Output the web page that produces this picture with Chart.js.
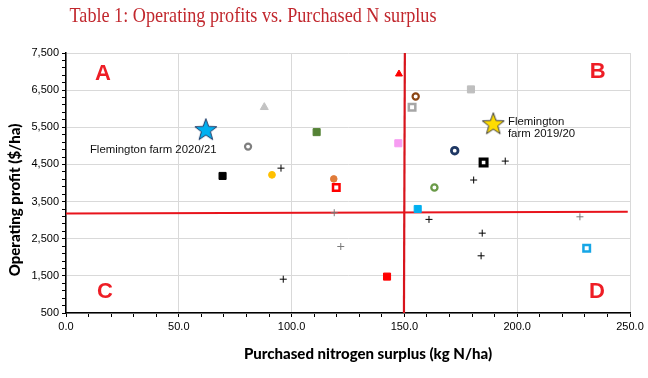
<!DOCTYPE html>
<html><head><meta charset="utf-8">
<script src="https://cdn.jsdelivr.net/npm/chart.js@4/dist/chart.umd.min.js"></script>
<style>html,body{margin:0;padding:0;background:#fff}#wrap{width:648px;height:378px}</style>
</head><body><div id="wrap"><canvas id="c" width="648" height="378"></canvas></div>
<script>
// ---------- texts ----------
const chartTitle = 'Table 1: Operating profits vs. Purchased N surplus';
const xAxisTitle = 'Purchased nitrogen surplus (kg N/ha)';
const yAxisTitle = 'Operating profit ($/ha)';

// ---------- data ----------
const farmNames = ['Flemington farm 2020/21','Flemington farm 2019/20','Farm 3','Farm 4','Farm 5','Farm 6','Farm 7','Farm 8','Farm 9','Farm 10','Farm 11','Farm 12','Farm 13','Farm 14','Farm 15','Farm 16','Farm 17','Farm 18','Farm 19','Farm 20','Farm 21','Farm 22','Farm 23','Farm 24','Farm 25','Farm 26','Farm 27','Farm 28','Farm 29','Farm 30'];
const nSurplus = [62.0, 189.4, 80.7, 87.9, 111.1, 69.4, 91.3, 95.3, 147.6, 155.0, 153.4, 179.5, 147.3, 172.3, 185.1, 194.7, 118.7, 119.8, 163.3, 180.7, 155.9, 118.9, 160.9, 227.8, 184.5, 121.8, 184.0, 230.8, 142.3, 96.3];
const opProfit = [5450, 5608, 4980, 6040, 5370, 4190, 4220, 4400, 6935, 6330, 6040, 6520, 5070, 4870, 4550, 4590, 4110, 3880, 3880, 4080, 3300, 3200, 3020, 3090, 2650, 2290, 2040, 2240, 1480, 1410];
const markerKind = ['starBlue','starYellow','ringGray','triGray','sqGreen','sqBlack','dotYellow','plusBlack','triRed','ringBrown','boxGray','sqLightGray','sqPink','ringNavy','boxBlack','plusBlack','dotOrange','boxRed','ringGreen','plusBlack','sqBlue','plusGray','plusBlack','plusGray','plusBlack','plusGray','plusBlack','boxBlue','sqRed','plusBlack'];

// reference lines
const hLineX = [0, 249];
const hLineY = [3180, 3225];
const vLineX = [149.8, 150.2];
const vLineY = [500, 7500];

// quadrant letters
const quadLetters = ['A','B','C','D'];
const quadX = [16.4, 235.7, 17.3, 235.4];
const quadY = [6935, 6998, 1074, 1074];

// callout labels
const calloutLines = [['Flemington farm 2020/21'], ['Flemington','farm 2019/20']];
const calloutX = [10.6, 195.9];
const calloutY = [4889, 5651];

// axis ranges / ticks
const xMin = 0, xMax = 250, xMajor = 50, xMinor = 10;
const yMin = 500, yMax = 7500, yMajor = 1000, yMinor = 200;

// ---------- styles ----------
function starImg(fill, stroke){
  const c = document.createElement('canvas');
  c.width = 26; c.height = 26;
  const g = c.getContext('2d');
  const R = 11.6, r = R*0.41;
  const cx = 13, cy = 13 + 0.0955*R;
  g.beginPath();
  for (let i=0;i<10;i++){
    const rad = (i%2===0)?R:r;
    const a = -Math.PI/2 + i*Math.PI/5;
    const px = cx + rad*Math.cos(a), py = cy + rad*Math.sin(a);
    if(i===0) g.moveTo(px,py); else g.lineTo(px,py);
  }
  g.closePath();
  g.fillStyle = fill; g.fill();
  g.lineWidth = 1; g.strokeStyle = stroke; g.stroke();
  return c;
}
const S = {
  starBlue:   {pointStyle: starImg('#00b0f0','#1f3864'), pointRadius: 11},
  starYellow: {pointStyle: starImg('#ffdc00','#3a3a3a'), pointRadius: 11},
  ringGray:   {pointStyle:'circle', pointRadius:3.05, pointBackgroundColor:'#fff', pointBorderColor:'#7f7f7f', pointBorderWidth:2.2},
  triGray:    {pointStyle:'triangle', pointRadius:4.6, pointBackgroundColor:'#c3c3c3', pointBorderColor:'#c3c3c3', pointBorderWidth:1},
  sqGreen:    {pointStyle:'rect', pointRadius:5, pointBackgroundColor:'#548235', pointBorderColor:'#548235', pointBorderWidth:1},
  sqBlack:    {pointStyle:'rect', pointRadius:5, pointBackgroundColor:'#000', pointBorderColor:'#000', pointBorderWidth:1},
  dotYellow:  {pointStyle:'circle', pointRadius:3.4, pointBackgroundColor:'#ffc000', pointBorderColor:'#ffc000', pointBorderWidth:1},
  plusBlack:  {pointStyle:'cross', pointRadius:3.5, pointBorderColor:'#000', pointBorderWidth:1},
  plusGray:   {pointStyle:'cross', pointRadius:3.5, pointBorderColor:'#7a7a7a', pointBorderWidth:1},
  triRed:     {pointStyle:'triangle', pointRadius:4.0, pointBackgroundColor:'#ff0000', pointBorderColor:'#ff0000', pointBorderWidth:1},
  ringBrown:  {pointStyle:'circle', pointRadius:3.1, pointBackgroundColor:'#fff', pointBorderColor:'#8b4513', pointBorderWidth:2.2},
  boxGray:    {pointStyle:'rect', pointRadius:4.6, pointBackgroundColor:'#fff', pointBorderColor:'#a6a6a6', pointBorderWidth:2.5},
  sqLightGray:{pointStyle:'rect', pointRadius:5, pointBackgroundColor:'#bfbfbf', pointBorderColor:'#bfbfbf', pointBorderWidth:1},
  sqPink:     {pointStyle:'rect', pointRadius:5, pointBackgroundColor:'#f79cf2', pointBorderColor:'#f79cf2', pointBorderWidth:1},
  ringNavy:   {pointStyle:'circle', pointRadius:3.3, pointBackgroundColor:'#fff', pointBorderColor:'#1f3864', pointBorderWidth:2.8},
  boxBlack:   {pointStyle:'rect', pointRadius:4.8, pointBackgroundColor:'#fff', pointBorderColor:'#000', pointBorderWidth:3.2},
  dotOrange:  {pointStyle:'circle', pointRadius:3.3, pointBackgroundColor:'#e07b39', pointBorderColor:'#e07b39', pointBorderWidth:1},
  boxRed:     {pointStyle:'rect', pointRadius:4.6, pointBackgroundColor:'#fff', pointBorderColor:'#ff0000', pointBorderWidth:2.5},
  ringGreen:  {pointStyle:'circle', pointRadius:3.1, pointBackgroundColor:'#fff', pointBorderColor:'#6a9a48', pointBorderWidth:2.3},
  sqBlue:     {pointStyle:'rect', pointRadius:5, pointBackgroundColor:'#00b0f0', pointBorderColor:'#00b0f0', pointBorderWidth:1},
  boxBlue:    {pointStyle:'rect', pointRadius:4.6, pointBackgroundColor:'#fff', pointBorderColor:'#16a6e6', pointBorderWidth:2.5},
  sqRed:      {pointStyle:'rect', pointRadius:5, pointBackgroundColor:'#ff0000', pointBorderColor:'#ff0000', pointBorderWidth:1}
};

const pointSets = nSurplus.map((xv, i) => Object.assign({
  type:'scatter', label: farmNames[i], data:[{x:xv, y:opProfit[i]}], order:0
}, S[markerKind[i]]));

const lineSets = [
  {type:'line', label:'hline', data: hLineX.map((v,i)=>({x:v, y:hLineY[i]})), borderColor:'#e8141c', borderWidth:2, pointRadius:0, showLine:true, fill:false, order:10},
  {type:'line', label:'vline', data: vLineX.map((v,i)=>({x:v, y:vLineY[i]})), borderColor:'#d8141c', borderWidth:2.2, pointRadius:0, showLine:true, fill:false, order:10}
];

const gridColor = '#d9d9d9';
const tickFont = {family:'"Liberation Sans", Arial, sans-serif', size:11};

const textPlugin = {
  id:'texts',
  afterDatasetsDraw(chart){
    const {ctx, scales:{x, y}} = chart;
    ctx.save();
    ctx.font = 'bold 22px "Liberation Sans", Arial, sans-serif';
    ctx.fillStyle = '#ee1d25';
    ctx.textAlign = 'center'; ctx.textBaseline = 'middle';
    quadLetters.forEach((t,i)=> ctx.fillText(t, x.getPixelForValue(quadX[i]), y.getPixelForValue(quadY[i])));
    ctx.font = '11.4px "Liberation Sans", Arial, sans-serif';
    ctx.fillStyle = '#111';
    ctx.textAlign = 'left';
    calloutLines.forEach((lines,i)=>{
      lines.forEach((t,j)=> ctx.fillText(t, x.getPixelForValue(calloutX[i]), y.getPixelForValue(calloutY[i]) + j*12.5));
    });
    ctx.restore();
  },
  afterDraw(chart){
    const {ctx, chartArea} = chart;
    ctx.save();
    // main title (condensed to the original's width)
    ctx.font = '21px "Liberation Serif", serif';
    const w = ctx.measureText(chartTitle).width;
    ctx.fillStyle = '#c1272d';
    ctx.textAlign = 'center'; ctx.textBaseline = 'middle';
    ctx.save();
    ctx.translate(253, 16);
    ctx.scale(367 / w, 1);
    ctx.fillText(chartTitle, 0, 0);
    ctx.restore();
    // axis titles
    ctx.fillStyle = '#000';
    ctx.font = '900 15px Lato, sans-serif';
    ctx.fillText(xAxisTitle, chartArea.left + (chartArea.right - chartArea.left)/2 + 20, 354);
    ctx.translate(15, (chartArea.top + chartArea.bottom)/2 + 17);
    ctx.rotate(-Math.PI/2);
    ctx.fillText(yAxisTitle, 0, 0);
    ctx.restore();
  }
};

new Chart(document.getElementById('c'), {
  type:'scatter',
  data:{datasets:[...lineSets, ...pointSets]},
  options:{
    responsive:false, animation:false, devicePixelRatio:1,
    events:[],
    layout:{padding:{left:0, top:53, right:18, bottom:0}},
    plugins:{legend:{display:false}, tooltip:{enabled:false}, title:{display:false}},
    scales:{
      x:{
        type:'linear', min:xMin, max:xMax,
        afterFit(s){ s.height = 65; },
        ticks:{stepSize:xMinor, autoSkip:false, maxRotation:0, padding:3, color:'#000', font:tickFont,
          callback:(v)=> (Math.round(v) % xMajor === 0) ? Number(v).toFixed(1) : ''},
        grid:{color:(c)=> (c.tick && Math.round(c.tick.value) % xMajor === 0) ? gridColor : 'rgba(0,0,0,0)',
          tickColor:'#000', tickLength:4, lineWidth:1},
        border:{color:'#000', width:1.5}
      },
      y:{
        type:'linear', min:yMin, max:yMax,
        afterFit(s){ s.width = 66; },
        ticks:{stepSize:yMinor, autoSkip:false, padding:3, color:'#000', font:tickFont,
          callback:(v)=> (Math.round(v - yMin) % yMajor === 0) ? Number(v).toLocaleString('en-US') : ''},
        grid:{color:(c)=> (c.tick && Math.round(c.tick.value - yMin) % yMajor === 0) ? gridColor : 'rgba(0,0,0,0)',
          tickColor:'#000', tickLength:4, lineWidth:1},
        border:{color:'#000', width:1.5}
      }
    }
  },
  plugins:[textPlugin]
});
</script>
</body></html>
